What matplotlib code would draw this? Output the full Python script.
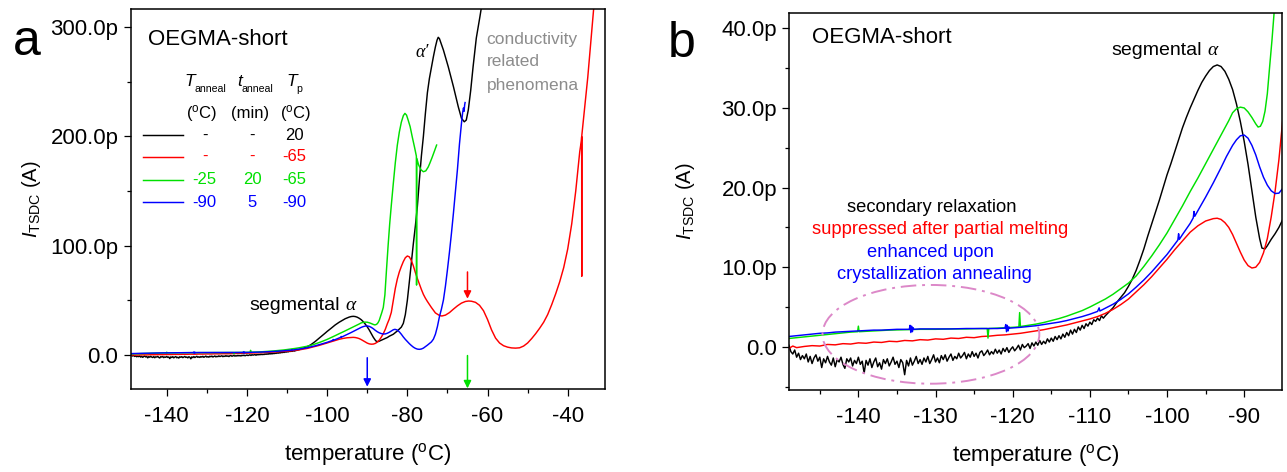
import matplotlib
matplotlib.use("Agg")
import matplotlib.pyplot as plt
from matplotlib.patches import Ellipse
from matplotlib.ticker import MultipleLocator, FuncFormatter

plt.rcParams['font.family'] = ['Liberation Sans', 'DejaVu Sans']
plt.rcParams['mathtext.fontset'] = 'custom'
plt.rcParams['mathtext.rm'] = 'Liberation Sans'
plt.rcParams['mathtext.it'] = 'Liberation Sans:italic'
plt.rcParams['mathtext.bf'] = 'Liberation Sans:bold'

# ---------------- TSDC data: temperature (degC) and current (pA) ----------------
# no annealing, Tp = 20 degC (noisy low-temperature part sampled every 0.25 degC)
black_T = [-149.0, -148.75, -148.5, -148.25, -148.0, -147.75, -147.5, -147.25,
           -147.0, -146.75, -146.5, -146.25, -146.0, -145.75, -145.5, -145.25,
           -145.0, -144.75, -144.5, -144.25, -144.0, -143.75, -143.5, -143.25,
           -143.0, -142.75, -142.5, -142.25, -142.0, -141.75, -141.5, -141.25,
           -141.0, -140.75, -140.5, -140.25, -140.0, -139.75, -139.5, -139.25,
           -139.0, -138.75, -138.5, -138.25, -138.0, -137.75, -137.5, -137.25,
           -137.0, -136.75, -136.5, -136.25, -136.0, -135.75, -135.5, -135.25,
           -135.0, -134.75, -134.5, -134.25, -134.0, -133.75, -133.5, -133.25,
           -133.0, -132.75, -132.5, -132.25, -132.0, -131.75, -131.5, -131.25,
           -131.0, -130.75, -130.5, -130.25, -130.0, -129.75, -129.5, -129.25,
           -129.0, -128.75, -128.5, -128.25, -128.0, -127.75, -127.5, -127.25,
           -127.0, -126.75, -126.5, -126.25, -126.0, -125.75, -125.5, -125.25,
           -125.0, -124.75, -124.5, -124.25, -124.0, -123.75, -123.5, -123.25,
           -123.0, -122.75, -122.5, -122.25, -122.0, -121.75, -121.5, -121.25,
           -121.0, -120.75, -120.5, -120.25, -120.0, -119.75, -119.5, -119.25,
           -119.0, -118.75, -118.5, -118.25, -118.0, -117.75, -117.5, -117.25,
           -117.0, -116.75, -116.5, -116.25, -116.0, -115.75, -115.5, -115.25,
           -115.0, -114.75, -114.5, -114.25, -114.0, -113.75, -113.5, -113.25,
           -113.0, -112.75, -112.5, -112.25, -112.0, -111.75, -111.5, -111.25,
           -111.0, -110.75, -110.5, -110.25, -110.0, -109.75, -109.5, -109.25,
           -109.0, -108.75, -108.5, -108.25, -108.0,
           -107.5, -107.0, -106.5, -106.0, -105.5, -105.0, -104.5, -104.0, -103.5, -103.0,
           -102.5, -102.0, -101.5, -101.0, -100.5, -100.0, -99.5, -99.0, -98.5, -98.0,
           -97.5, -97.0, -96.5, -96.0, -95.5, -95.0, -94.5, -94.0, -93.5, -93.0,
           -92.5, -92.0, -91.5, -91.0, -90.5, -90.0, -89.5, -89.0, -88.5, -88.0,
           -87.7, -87.3, -87.0, -86.5, -86.0, -85.5, -85.0, -84.5, -83.5, -82.5,
           -81.5, -81.0, -80.5, -80.0, -79.5, -79.0, -78.5, -78.0, -77.5, -77.0,
           -76.5, -76.0, -75.5, -75.0, -74.5, -74.0, -73.5, -73.0, -72.6, -72.3,
           -72.0, -71.0, -69.8, -68.5, -67.3, -66.5, -65.8, -65.3, -64.8, -64.2,
           -63.6, -62.8, -61.9, -61.0]
black_I = [0.2, -0.6, -0.9, -0.4, -1.3, -0.8, -1.6, -1.1,
           -1.5, -0.9, -1.9, -1.2, -2.1, -1.4, -1.0, -1.8,
           -1.3, -2.6, -1.5, -2.0, -1.2, -1.9, -2.3, -1.4,
           -2.5, -1.6, -1.9, -1.3, -2.2, -2.7, -1.5, -1.9,
           -1.4, -2.4, -1.7, -2.1, -1.3, -2.2, -1.8, -3.3,
           -1.7, -2.3, -1.5, -2.6, -1.9, -1.4, -2.5, -2.0,
           -2.8, -1.6, -2.1, -1.5, -2.4, -1.9, -1.3, -2.2,
           -1.8, -2.6, -1.6, -2.0, -3.5, -1.7, -2.4, -1.4,
           -2.3, -1.8, -1.2, -2.1, -1.6, -2.2, -1.4, -1.9,
           -1.2, -2.1, -1.6, -1.0, -1.9, -1.4, -2.0, -1.1,
           -1.6, -1.0, -1.8, -1.3, -0.9, -1.7, -1.2, -1.5,
           -0.8, -1.4, -1.1, -0.7, -1.5, -0.9, -1.3, -0.6,
           -1.2, -0.8, -1.4, -0.7, -0.5, -1.1, -0.8, -0.4,
           -1.0, -0.6, -0.9, -0.3, -0.8, -0.4, -0.9, -0.2,
           -0.6, -0.1, -0.7, -0.3, 0.0, -0.5, -0.2, 0.2,
           -0.4, 0.3, -0.1, 0.1, 0.4, -0.2, 0.5, 0.1,
           0.6, 0.2, 0.8, 0.3, 0.7, 0.4, 1.0, 0.6,
           1.1, 0.7, 1.3, 0.9, 1.4, 1.0, 1.6, 1.2,
           1.8, 1.4, 2.1, 1.6, 2.2, 1.8, 2.5, 2.1,
           2.7, 2.3, 2.9, 2.6, 3.1, 2.8, 3.4, 3.2,
           3.6, 3.3, 3.9, 3.6, 3.9,
           4.4, 4.9, 5.6, 6.2, 6.8, 7.6, 8.5, 9.6, 10.9, 12.3,
           13.9, 15.4, 16.9, 18.4, 20.0, 21.6, 23.0, 24.5, 26.0, 27.5,
           28.8, 30.0, 31.1, 32.2, 33.2, 34.0, 34.7, 35.2, 35.4, 35.2,
           34.6, 33.6, 32.3, 30.5, 28.3, 25.8, 22.9, 19.6, 16.3, 13.6,
           12.4, 12.3, 12.7, 13.5, 14.2, 15.0, 16.0, 17.2, 19.0, 22.0,
           25.5, 29.0, 37.0, 50.0, 67.0, 85.0, 102.0, 118.0, 136.0, 160.0,
           182.0, 200.0, 221.0, 240.0, 253.0, 263.0, 273.0, 282.0, 288.0, 290.7,
           289.5, 279.0, 263.8, 245.5, 227.2, 216.6, 213.4, 215.0, 224.1, 242.0,
           263.8, 290.0, 309.5, 330.0]

# no annealing, Tp = -65 degC
red_T = [-149.0, -148.5, -148.0, -147.0, -146.0, -145.0, -144.0, -143.0, -142.0, -141.0,
         -140.0, -139.0, -138.0, -137.0, -136.0, -135.0, -134.0, -133.0, -132.0, -131.0,
         -130.0, -129.0, -128.0, -127.0, -126.0, -125.0, -124.0, -123.0, -122.0, -121.0,
         -120.0, -119.0, -118.0, -117.0, -116.0, -115.0, -114.0, -113.0, -112.0, -111.0,
         -110.0, -109.0, -108.0, -107.0, -106.0, -105.0, -104.0, -103.0, -102.0, -101.0,
         -100.0, -99.0, -98.0, -97.0, -96.0, -95.0, -94.0, -93.5, -93.0, -92.5,
         -92.0, -91.5, -91.0, -90.5, -90.0, -89.5, -89.0, -88.5, -88.0, -87.5,
         -87.0, -86.5, -86.0, -85.5, -85.0, -84.5, -84.0, -83.5, -83.0, -82.5,
         -82.0, -81.5, -81.0, -80.5, -80.0, -79.5, -79.0, -78.5, -78.0, -77.5,
         -77.0, -76.5, -76.0, -75.5, -75.0, -74.0, -73.0, -72.0, -71.4, -70.5,
         -69.5, -68.5, -67.5, -66.5, -65.5, -64.7, -64.0, -63.0, -62.0, -61.0,
         -60.0, -59.0, -58.0, -57.0, -56.0, -55.0, -54.0, -53.0, -52.0, -51.0,
         -50.0, -49.0, -48.0, -47.0, -46.0, -45.0, -44.0, -43.0, -42.0, -41.0,
         -40.0, -39.0, -38.0, -37.0, -36.6, -36.52, -36.5, -36.48, -36.0, -35.0,
         -34.0, -33.5]
red_I = [-0.2, 0.1, -0.1, 0.05, 0.15, 0.1, 0.3, 0.25, 0.4, 0.35,
         0.5, 0.45, 0.6, 0.55, 0.7, 0.65, 0.8, 0.75, 0.9, 0.85,
         1.0, 0.95, 1.1, 1.05, 1.2, 1.15, 1.3, 1.35, 1.45, 1.5,
         1.6, 1.7, 1.85, 2.0, 2.15, 2.35, 2.55, 2.75, 3.0, 3.25,
         3.5, 3.8, 4.2, 4.7, 5.3, 6.0, 6.9, 7.8, 8.8, 9.9,
         11.0, 12.2, 13.3, 14.4, 15.2, 15.8, 16.1, 16.15, 16.0, 15.6,
         15.0, 14.1, 13.0, 11.9, 10.9, 10.2, 9.9, 10.0, 10.6, 11.8,
         13.6, 16.3, 19.5, 23.5, 28.5, 33.0, 39.0, 50.0, 61.0, 69.5,
         76.0, 81.0, 85.5, 89.0, 90.6, 89.8, 86.5, 81.5, 75.5, 70.0,
         65.0, 60.0, 55.5, 52.0, 49.0, 43.5, 38.5, 36.2, 35.7, 36.5,
         38.8, 42.0, 45.0, 47.5, 49.0, 49.4, 49.2, 48.2, 45.5, 40.5,
         32.5, 23.0, 15.5, 11.0, 8.5, 7.2, 6.5, 6.3, 6.6, 8.2,
         11.0, 15.0, 19.5, 24.5, 30.0, 37.0, 46.0, 56.0, 67.0, 80.0,
         97.0, 120.0, 150.0, 186.0, 196.0, 199.7, 72.0, 201.0, 218.0, 254.0,
         296.0, 318.0]

# annealed at -25 degC for 20 min, Tp = -65 degC
green_T = [-149.0, -148.0, -147.0, -146.0, -145.0, -144.0, -143.0, -142.0, -141.0, -140.1,
           -140.0, -139.9, -139.0, -138.0, -136.0, -134.0, -132.0, -130.0, -128.0, -126.0,
           -124.0, -123.3, -123.2, -123.1, -122.0, -121.0, -120.0, -119.2, -119.1, -119.0,
           -118.0, -117.0, -116.0, -115.0, -114.0, -113.0, -112.0, -111.0, -110.0, -109.0,
           -108.0, -107.0, -106.0, -105.0, -104.0, -103.0, -102.0, -101.0, -100.0, -99.0,
           -98.0, -97.0, -96.0, -95.0, -94.0, -93.0, -92.0, -91.5, -91.0, -90.5,
           -90.0, -89.5, -89.0, -88.5, -88.2, -87.9, -87.6, -87.3, -87.0, -86.7,
           -86.4, -86.0, -85.6, -85.2, -84.8, -84.4, -84.0, -83.5, -83.0, -82.5,
           -82.0, -81.5, -81.0, -80.6, -80.2, -79.8, -79.3, -78.8, -78.2, -77.75,
           -77.7, -77.65, -77.2, -76.6, -76.0, -75.4, -74.8, -74.4, -73.8, -73.2,
           -72.7]
green_I = [1.05, 1.15, 1.25, 1.35, 1.45, 1.55, 1.65, 1.75, 1.85, 1.9,
           2.6, 1.9, 1.95, 2.0, 2.1, 2.15, 2.2, 2.2, 2.25, 2.25,
           2.3, 2.3, 1.1, 2.3, 2.35, 2.4, 2.45, 2.5, 4.3, 2.55,
           2.7, 2.85, 3.05, 3.3, 3.55, 3.85, 4.2, 4.55, 5.0, 5.5,
           6.0, 6.6, 7.3, 8.0, 8.9, 10.1, 11.4, 12.8, 14.3, 16.0,
           17.7, 19.5, 21.2, 23.0, 24.8, 26.6, 28.4, 29.4, 29.9, 30.1,
           30.0, 29.5, 28.8, 28.0, 27.6, 27.7, 28.3, 29.6, 31.8, 35.2,
           38.5, 43.5, 55.0, 78.0, 100.0, 120.0, 137.0, 157.0, 176.0, 192.0,
           204.0, 213.0, 219.0, 221.1, 219.5, 215.0, 208.9, 200.0, 190.0, 182.0,
           64.0, 180.0, 174.0, 169.5, 167.7, 168.5, 172.0, 175.4, 181.0, 187.0,
           192.1]

# annealed at -90 degC for 5 min, Tp = -90 degC
blue_T = [-149.0, -148.0, -147.0, -146.0, -145.0, -144.0, -143.0, -142.0, -141.0, -140.0,
          -139.0, -138.0, -137.0, -136.0, -135.0, -134.0, -133.4, -133.3, -133.2, -133.1,
          -133.0, -132.9, -132.8, -132.0, -130.0, -128.0, -126.0, -124.0, -122.0, -121.0,
          -120.9, -120.8, -120.7, -120.6, -120.5, -120.4, -119.0, -118.0, -117.0, -116.0,
          -115.0, -114.0, -113.0, -112.0, -111.0, -110.0, -109.0, -108.8, -108.7, -108.0,
          -107.0, -106.0, -105.0, -104.0, -103.0, -102.0, -101.0, -100.0, -99.0, -98.6,
          -98.5, -98.4, -98.0, -97.0, -96.6, -96.5, -96.4, -96.0, -95.0, -94.0,
          -93.0, -92.3, -91.5, -91.0, -90.5, -90.0, -89.5, -89.0, -88.5, -88.0,
          -87.5, -87.0, -86.5, -86.0, -85.5, -85.0, -84.5, -84.0, -83.5, -83.1,
          -82.6, -82.0, -81.5, -81.0, -80.5, -80.0, -79.5, -79.0, -78.5, -78.0,
          -77.5, -77.0, -76.5, -76.0, -75.5, -75.0, -74.5, -74.0, -73.5, -73.0,
          -72.5, -72.0, -71.5, -71.0, -70.5, -70.0, -69.5, -69.0, -68.5, -68.0,
          -67.5, -67.0, -66.5, -66.2, -66.0, -65.85, -65.7, -65.6]
blue_I = [1.3, 1.4, 1.5, 1.6, 1.7, 1.75, 1.85, 1.9, 1.95, 2.0,
          2.05, 2.1, 2.1, 2.15, 2.2, 2.2, 2.2, 2.7, 1.8, 2.6,
          1.9, 2.4, 2.2, 2.25, 2.25, 2.25, 2.3, 2.3, 2.3, 2.35,
          2.8, 1.9, 2.7, 2.0, 2.5, 2.35, 2.45, 2.55, 2.65, 2.8,
          2.95, 3.1, 3.3, 3.55, 3.8, 4.1, 4.45, 4.9, 4.5, 4.85,
          5.35, 5.95, 6.65, 7.5, 8.4, 9.4, 10.5, 11.6, 12.9, 13.4,
          14.2, 13.5, 14.1, 15.5, 16.2, 17.0, 16.4, 17.1, 18.8, 20.6,
          22.5, 23.9, 25.3, 26.0, 26.5, 26.6, 26.2, 25.3, 24.1, 22.6,
          21.3, 20.3, 19.6, 19.25, 19.3, 19.9, 20.8, 22.0, 23.1, 23.5,
          23.0, 21.2, 19.0, 16.5, 14.3, 12.3, 10.4, 8.7, 7.2, 6.1,
          5.4, 5.2, 5.5, 6.3, 7.6, 9.0, 10.5, 12.0, 14.5, 19.0,
          26.0, 35.0, 42.0, 50.3, 63.0, 78.0, 94.0, 111.3, 130.0, 150.0,
          170.0, 193.0, 212.0, 222.0, 226.0, 223.0, 229.0, 231.0]

series_T = [black_T, red_T, green_T, blue_T]
series_I = [black_I, red_I, green_I, blue_I]
series_colors = ['black', '#ff0000', '#00e000', '#0000ff']

# thermal history table
anneal_temp = ['-', '-', '-25', '-90']
anneal_time = ['-', '-', '20', '5']
polarization_temp = [20, -65, -65, -90]

# ---------------- figure ----------------
W, H = 1287, 472
fig = plt.figure(figsize=(W / 100, H / 100), dpi=100)
ax_a = fig.add_axes([130.7 / W, (H - 389) / H, (605 - 130.7) / W, (389 - 9) / H])
ax_b = fig.add_axes([789.3 / W, (H - 390) / H, (1282 - 789.3) / W, (390 - 12.7) / H])


def pico(v, pos):
    return '0.0' if abs(v) < 1e-9 else f'{v:.1f}p'


def style_axes(ax, xmaj, xmin, ymaj, ymin):
    for side in ['top', 'right', 'bottom', 'left']:
        ax.spines[side].set_linewidth(1.1)
    ax.xaxis.set_major_locator(MultipleLocator(xmaj))
    ax.xaxis.set_minor_locator(MultipleLocator(xmin))
    ax.yaxis.set_major_locator(MultipleLocator(ymaj))
    ax.yaxis.set_minor_locator(MultipleLocator(ymin))
    ax.yaxis.set_major_formatter(FuncFormatter(pico))
    ax.xaxis.set_major_formatter(FuncFormatter(lambda v, p: f'{v:.0f}'))
    ax.tick_params(which='both', direction='out', top=False, right=False, width=0.9)
    ax.tick_params(which='major', length=4.8)
    ax.tick_params(which='minor', length=2.9)
    ax.tick_params(axis='x', which='major', pad=7.5, labelsize=16)
    ax.tick_params(axis='y', which='major', pad=4.0, labelsize=16)
    ax.set_xlabel(r'temperature ($^{\mathrm{o}}$C)', fontsize=16, labelpad=10)
    ax.set_ylabel(r'$I_{\mathrm{TSDC}}$ (A)', fontsize=14.5)


def text_with_alpha(ax, x, y, label, size, color='black'):
    t = ax.text(x, y, label, transform=ax.transAxes, fontsize=size, color=color,
                ha='left', va='baseline')
    ax.annotate('\u03b1', xy=(1, 0), xycoords=t, xytext=(4, 0), textcoords='offset points',
                fontsize=size, color=color, ha='left', va='bottom',
                family=['Liberation Serif', 'DejaVu Serif'], style='italic')


def symbol_with_subscript(ax, x, y, main, sub, color='black'):
    t = ax.text(x, y, main, transform=ax.transAxes, fontsize=12.5, style='italic',
                color=color, ha='left', va='baseline')
    ax.annotate(sub, xy=(1, 0), xycoords=t, xytext=(-0.5, -2.3), textcoords='offset points',
                fontsize=7.6, color=color, ha='left', va='baseline')


for ax in (ax_a, ax_b):
    for T, I, c in zip(series_T, series_I, series_colors):
        ax.plot(T, I, color=c, lw=1.05, solid_joinstyle='round')

# ---- panel a ----
ax_a.set_xlim(-149.0, -30.7)
ax_a.set_ylim(-31.1, 316.6)
style_axes(ax_a, 20, 10, 100, 50)
ax_a.yaxis.set_label_coords(-0.1843, 0.5)

# polarization temperature markers
arrow_kw = dict(arrowstyle='-|>', lw=1.1, mutation_scale=11, shrinkA=0, shrinkB=0)
ax_a.annotate('', xy=(polarization_temp[1], 51.5), xytext=(polarization_temp[1], 76),
              arrowprops=dict(color=series_colors[1], **arrow_kw))
ax_a.annotate('', xy=(polarization_temp[2], -30.5), xytext=(polarization_temp[2], -0.5),
              arrowprops=dict(color=series_colors[2], **arrow_kw), annotation_clip=False)
ax_a.annotate('', xy=(polarization_temp[3], -29.0), xytext=(polarization_temp[3], -2.5),
              arrowprops=dict(color=series_colors[3], **arrow_kw))

ax_a.text(0.0365, 0.905, 'OEGMA-short', transform=ax_a.transAxes, fontsize=16,
          ha='left', va='baseline')

# thermal history table
hdr_y, unit_y = 0.797, 0.726
symbol_with_subscript(ax_a, 0.1130, hdr_y, 'T', 'anneal')
symbol_with_subscript(ax_a, 0.2256, hdr_y, 't', 'anneal')
symbol_with_subscript(ax_a, 0.3289, hdr_y, 'T', 'p')
ax_a.text(0.1489, unit_y, r'($^{\mathrm{o}}$C)', transform=ax_a.transAxes,
          fontsize=12, ha='center', va='center')
ax_a.text(0.2526, unit_y, '(min)', transform=ax_a.transAxes,
          fontsize=12, ha='center', va='center')
ax_a.text(0.3481, unit_y, r'($^{\mathrm{o}}$C)', transform=ax_a.transAxes,
          fontsize=12, ha='center', va='center')
row_y = [0.668, 0.611, 0.550, 0.492]
for k in range(4):
    c = series_colors[k]
    ax_a.plot([0.0259, 0.1102], [row_y[k], row_y[k]], color=c, lw=1.05,
              transform=ax_a.transAxes)
    ax_a.text(0.1556, row_y[k], anneal_temp[k], transform=ax_a.transAxes, fontsize=12,
              color=c, ha='center', va='center')
    ax_a.text(0.2557, row_y[k], anneal_time[k], transform=ax_a.transAxes, fontsize=12,
              color=c, ha='center', va='center')
    ax_a.text(0.3453, row_y[k], str(polarization_temp[k]), transform=ax_a.transAxes,
              fontsize=12, color=c, ha='center', va='center')

ax_a.text(0.5994, 0.8745, '\u03b1\u2032', transform=ax_a.transAxes, fontsize=13,
          family=['Liberation Serif', 'DejaVu Serif'], style='italic',
          ha='left', va='baseline')
for line, yb in zip(['conductivity', 'related', 'phenomena'], [0.907, 0.849, 0.787]):
    ax_a.text(0.7506, yb, line, transform=ax_a.transAxes, fontsize=12.5,
              color='#8c8c8c', ha='left', va='baseline')
text_with_alpha(ax_a, 0.2494, 0.2079, 'segmental', 14)

# ---- panel b ----
ax_b.set_xlim(-148.95, -85.1)
ax_b.set_ylim(-5.42, 41.96)
style_axes(ax_b, 10, 5, 10, 5)
ax_b.yaxis.set_label_coords(-0.188, 0.5)

ax_b.text(0.0455, 0.9197, 'OEGMA-short', transform=ax_b.transAxes, fontsize=16,
          ha='left', va='baseline')
text_with_alpha(ax_b, 0.6544, 0.8879, 'segmental', 14)

notes = [('secondary relaxation', 'black', 0.2882, 0.4726),
         ('suppressed after partial melting', '#ff0000', 0.3059, 0.4135),
         ('enhanced upon', '#0000ff', 0.2862, 0.3533),
         ('crystallization annealing', '#0000ff', 0.2941, 0.2934)]
for s, c, x, y in notes:
    ax_b.text(x, y, s, transform=ax_b.transAxes, fontsize=13.2, color=c,
              ha='center', va='baseline')

ax_b.add_patch(Ellipse((-130.6, 1.57), 28.1, 12.4, fill=False, edgecolor='#dc88c8',
                       lw=1.4, linestyle=(0, (8, 3, 1.5, 3)), zorder=5))

# panel letters
fig.text(13 / W, (H - 55) / H, 'a', fontsize=36, ha='left', va='baseline')
fig.text(668 / W, (H - 57) / H, 'b', fontsize=36, ha='left', va='baseline')

fig.savefig('out.png', dpi=100, facecolor='white')
